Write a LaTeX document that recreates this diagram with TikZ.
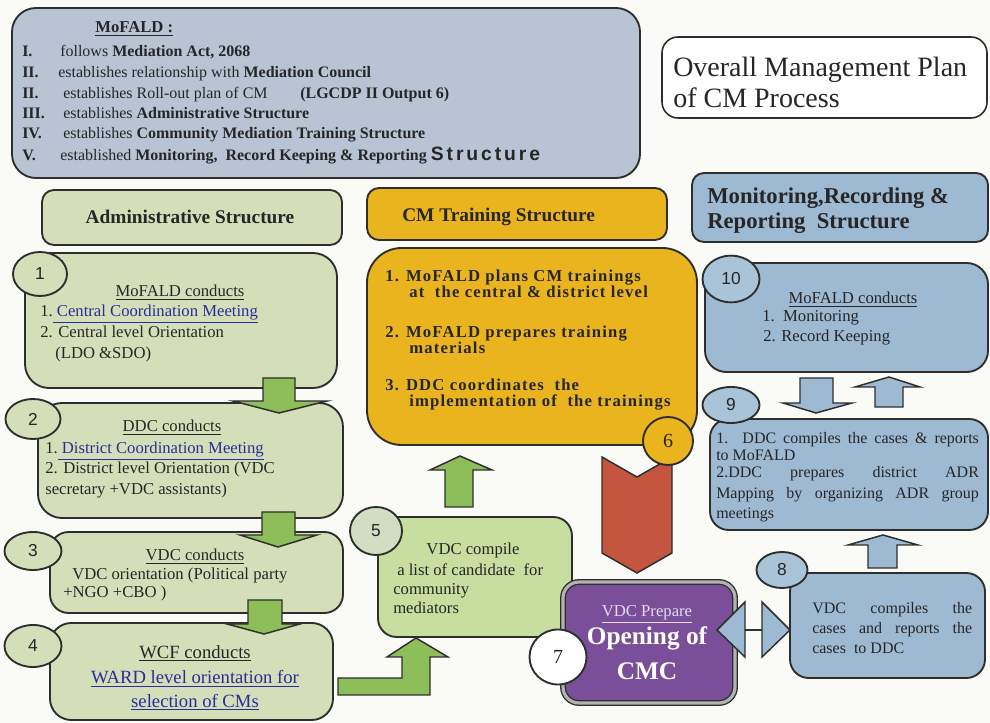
\documentclass[tikz,border=0pt]{standalone}
\usepackage{fontspec}
\setmainfont{Liberation Serif}
\newfontfamily\numfont{Liberation Sans}
\newfontfamily\widesans[LetterSpace=15]{Liberation Sans}
\newfontfamily\wideserif[LetterSpace=7]{Liberation Serif}
\usetikzlibrary{fit,shapes.geometric}
\definecolor{paper}{HTML}{FAFAF7}
\definecolor{topfill}{HTML}{B8C4D4}
\definecolor{grn}{HTML}{D4DFB9}
\definecolor{grnarrow}{HTML}{8DBE5A}
\definecolor{grnbright}{HTML}{C7DEA0}
\definecolor{grncirc}{HTML}{D2DDC2}
\definecolor{gold}{HTML}{E9B41E}
\definecolor{blu}{HTML}{9DBAD2}
\definecolor{blucirc}{HTML}{A9C3D8}
\definecolor{purp}{HTML}{7A4E98}
\definecolor{lav}{HTML}{E4DCF2}
\definecolor{redarr}{HTML}{C4553F}
\definecolor{lnk}{HTML}{2B2D9A}
\definecolor{ink}{HTML}{262626}
\definecolor{edge}{HTML}{2E2E2E}
\newcommand\fz[1]{\fontsize{#1}{#1}\selectfont}
\tikzset{
  box/.style={draw=edge, line width=1.4pt, inner sep=0pt},
  num/.style={ellipse, draw=edge, line width=1.4pt, inner sep=0pt, text=ink, font=\numfont\fz{13}},
  blk/.style={draw=edge, line width=1.1pt, line join=miter},
  txt/.style={inner sep=0pt, text=ink, anchor=base west},
  ctxt/.style={inner sep=0pt, text=ink, anchor=base},
}
\begin{document}
\begin{tikzpicture}[x=0.75pt,y=-0.75pt]
\fill[paper] (0,0) rectangle (990,723);
\useasboundingbox (0,0) rectangle (990,723);

% ---------- boxes ----------
\node[box, fill=topfill, rounded corners=18pt, fit={(12,8)(640,178)}] (top) {};
\node[box, fill=white, rounded corners=12pt, line width=1.2pt, fit={(662,37)(987,118)}] (title) {};
\node[box, fill=grn, rounded corners=9pt, fit={(42,190)(342,245)}] (hadm) {};
\node[box, fill=gold, rounded corners=9pt, fit={(367,188)(667,240)}] (htr) {};
\node[box, fill=blu, rounded corners=9pt, fit={(692,173)(988,242)}] (hmon) {};
\node[box, fill=grn, rounded corners=18pt, fit={(25,253)(337,388)}] (b1) {};
\node[box, fill=grn, rounded corners=18pt, fit={(38,403)(343,518)}] (b2) {};
\node[box, fill=grn, rounded corners=14pt, fit={(50,532)(343,613)}] (b3) {};
\node[box, fill=grn, rounded corners=16pt, fit={(50,623)(333,720)}] (b4) {};
\node[box, fill=grnbright, rounded corners=14pt, fit={(378,517)(572,637)}] (b5) {};
\node[box, fill=gold, rounded corners=26pt, fit={(367,248)(697,445)}] (b6) {};
\node[box, fill=purp, line width=1pt, rounded corners=12pt, double=gray!60, double distance=2.4pt, fit={(563,582)(735,703)}] (b7) {};
\node[box, fill=blu, rounded corners=14pt, fit={(790,573)(985,678)}] (b8) {};
\node[box, fill=blu, rounded corners=14pt, fit={(710,419)(988,530)}] (b9) {};
\node[box, fill=blu, rounded corners=16pt, fit={(705,263)(988,372)}] (b10) {};

% ---------- block arrows ----------
\draw[blk, fill=grnarrow] (263,378) -- (263,401) -- (233,401) -- (279,413) -- (327,401) -- (295,401) -- (295,378) -- cycle;
\draw[blk, fill=grnarrow] (262,512) -- (262,535) -- (240,535) -- (278,547) -- (317,535) -- (295,535) -- (295,512) -- cycle;
\draw[blk, fill=grnarrow] (248,600) -- (248,624) -- (227,624) -- (264,634) -- (300,624) -- (282,624) -- (282,600) -- cycle;
\draw[blk, fill=grnarrow] (338,678) -- (402,678) -- (402,657) -- (387,657) -- (416,638) -- (448,657) -- (430,657) -- (430,695) -- (338,695) -- cycle;
\draw[blk, fill=grnarrow] (445,507) -- (445,470) -- (430,470) -- (460,456) -- (492,470) -- (473,470) -- (473,507) -- cycle;
\draw[blk, fill=redarr] (602,457) -- (637,477) -- (672,457) -- (672,553) -- (637,573) -- (602,553) -- cycle;
\draw[blk, fill=blu] (800,378) -- (800,403) -- (783,403) -- (816,413) -- (852,403) -- (833,403) -- (833,378) -- cycle;
\draw[blk, fill=blu] (875,407) -- (875,387) -- (855,387) -- (889,377) -- (920,387) -- (903,387) -- (903,407) -- cycle;
\draw[blk, fill=blu] (868,568) -- (868,545) -- (848,545) -- (883,535) -- (918,545) -- (897,545) -- (897,568) -- cycle;
\draw[blk, fill=blu] (717,630) -- (745,602) -- (745,657) -- cycle;
\draw[blk, fill=blu] (790,630) -- (762,602) -- (762,657) -- cycle;
\draw[blk] (745,630) -- (762,630);

% ---------- number circles ----------
\node[num, fill=grn, minimum width=40.5pt, minimum height=33pt] (c1) at (40,274) {1};
\node[num, fill=grn, minimum width=41.25pt, minimum height=30pt] (c2) at (33,419) {2};
\node[num, fill=grn, minimum width=42.75pt, minimum height=28.5pt] (c3) at (33,551) {3};
\node[num, fill=grn, minimum width=42.75pt, minimum height=31.5pt] (c4) at (33,646) {4};
\node[num, fill=grncirc, minimum width=39pt, minimum height=36pt] (c5) at (376,531) {5};
\node[num, fill=gold, minimum width=37.5pt, minimum height=36pt, font=\fz{15}] (c6) at (668,441) {6};
\node[num, fill=white, minimum width=42.75pt, minimum height=41.25pt, font=\fz{15}] (c7) at (558,657) {7};
\node[num, fill=blucirc, minimum width=38.25pt, minimum height=27pt] (c8) at (782,570) {8};
\node[num, fill=blucirc, minimum width=42.75pt, minimum height=27pt] (c9) at (731,405) {9};
\node[num, fill=blucirc, minimum width=42.75pt, minimum height=35pt] (c10) at (731,279) {10};

% ---------- top box text ----------
\node[txt, font=\fz{12.5}\bfseries] (t0) at (95,33) {\underline{MoFALD :}};
\begin{scope}[every node/.append style={font=\fz{12}}]
\node[txt] (r1) at (22,57) {\textbf{I.}};
\node[txt] (l1) at (60,57) {follows \textbf{Mediation Act, 2068}};
\node[txt] (r2) at (22,78) {\textbf{II.}};
\node[txt] (l2) at (58,78) {establishes relationship with \textbf{Mediation Council}};
\node[txt] (r3) at (22,99) {\textbf{II.}};
\node[txt] (l3) at (63,99) {establishes Roll-out plan of CM};
\node[txt] (l3b) at (300,99) {\textbf{(LGCDP II Output 6)}};
\node[txt] (r4) at (22,119) {\textbf{III.}};
\node[txt] (l4) at (63,119) {establishes \textbf{Administrative Structure}};
\node[txt] (r5) at (22,139) {\textbf{IV.}};
\node[txt] (l5) at (63,139) {establishes \textbf{Community Mediation Training Structure}};
\node[txt] (r6) at (22,161) {\textbf{V.}};
\node[txt] (l6) at (60,161) {established \textbf{Monitoring,\ \ Record Keeping \& Reporting} {\widesans\bfseries\fz{14.5}Structure}};
\end{scope}

% ---------- title ----------
\node[txt, font=\fz{21}] (ti1) at (673,77) {Overall Management Plan};
\node[txt, font=\fz{21}] (ti2) at (673,108) {of CM Process};

% ---------- headers ----------
\node[ctxt, font=\fz{14.5}\bfseries] (ha) at (190,224) {Administrative Structure};
\node[txt, font=\fz{14.5}\bfseries] (ht) at (402,222) {CM Training Structure};
\node[txt, font=\fz{17}\bfseries] (hm1) at (707,204) {Monitoring,Recording \&};
\node[txt, font=\fz{17}\bfseries] (hm2) at (707,229) {Reporting\ \ Structure};

% ---------- box 1 ----------
\begin{scope}[every node/.append style={font=\fz{12.5}}]
\node[ctxt] (b1a) at (180,297) {\underline{MoFALD conducts}};
\node[txt] (b1b) at (40,317) {1.{\color{lnk}\underline{\ Central Coordination Meeting}}};
\node[txt] (b1c) at (40,338) {2. Central level Orientation};
\node[txt] (b1d) at (55,359) {(LDO \&SDO)};
% box 2
\node[ctxt] (b2a) at (172,432) {\underline{DDC conducts}};
\node[txt] (b2b) at (45,454) {1.{\color{lnk}\underline{\ District Coordination Meeting}}};
\node[txt] (b2c) at (45,474) {2. District level Orientation (VDC};
\node[txt] (b2d) at (45,495) {secretary +VDC assistants)};
% box 3
\node[ctxt] (b3a) at (195,561) {\underline{VDC conducts}};
\node[txt] (b3b) at (72,580) {VDC orientation (Political party};
\node[txt] (b3c) at (63,598) {+NGO +CBO )};
% box 5
\node[ctxt] (b5a) at (473,555) {VDC compile};
\node[txt] (b5b) at (397,576) {a list of candidate\ \ for};
\node[txt] (b5c) at (393,595) {community};
\node[txt] (b5d) at (393,614) {mediators};
% box 10
\node[ctxt] (b10a) at (853,304) {\underline{MoFALD conducts}};
\node[txt] (b10b) at (762,322) {1.\ \ Monitoring};
\node[txt] (b10c) at (763,342) {2. Record Keeping};
\end{scope}

% box 4
\node[ctxt, font=\fz{14}] (b4a) at (195,658) {\underline{WCF conducts}};
\node[ctxt, font=\fz{14}, text=lnk] (b4b) at (195,684) {\underline{WARD level orientation for}};
\node[ctxt, font=\fz{14}, text=lnk] (b4c) at (195,707) {\underline{selection of CMs}};

% box 6
\begin{scope}[every node/.append style={font=\wideserif\fz{12.5}\bfseries}]
\node[txt] (b6a) at (385,282) {1. MoFALD plans CM trainings};
\node[txt] (b6b) at (409,298) {at\ \ the central \& district level};
\node[txt] (b6c) at (385,338) {2. MoFALD prepares training};
\node[txt] (b6d) at (409,354) {materials};
\node[txt] (b6e) at (385,391) {3. DDC coordinates\ \ the};
\node[txt] (b6f) at (409,407) {implementation of\ \ the trainings};
\end{scope}

% box 7
\node[ctxt, font=\fz{12.5}, text=lav] (b7a) at (647,617) {\underline{VDC Prepare}};
\node[ctxt, font=\fz{19}\bfseries, text=white] (b7b) at (647,645) {Opening of};
\node[ctxt, font=\fz{19}\bfseries, text=white] (b7c) at (647,680) {CMC};

% box 8
\begin{scope}[every node/.append style={font=\fz{12}}]
\node[txt] (b8a) at (812,614) {\makebox[120pt][s]{VDC compiles the}};
\node[txt] (b8b) at (812,634) {\makebox[120pt][s]{cases and reports the}};
\node[txt] (b8c) at (812,653) {cases\ \ to DDC};
% box 9
\node[txt] (b9a) at (716,444) {\makebox[197pt][s]{1. DDC compiles the cases \& reports}};
\node[txt] (b9b) at (716,461) {to MoFALD};
\node[txt] (b9c) at (716,478) {\makebox[197pt][s]{2.DDC prepares district ADR}};
\node[txt] (b9d) at (716,499) {\makebox[197pt][s]{Mapping by organizing ADR group}};
\node[txt] (b9e) at (716,519) {meetings};
\end{scope}
\end{tikzpicture}
\end{document}
